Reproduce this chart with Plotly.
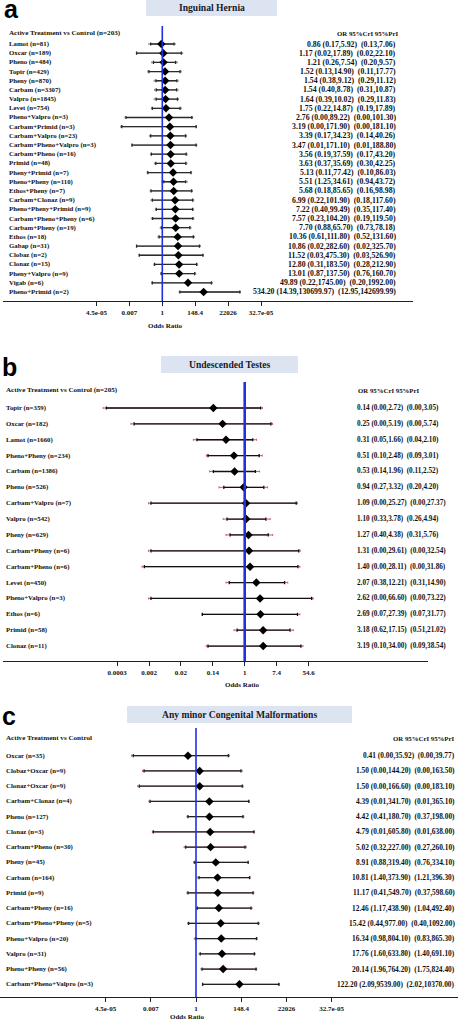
import numpy as np
import plotly.graph_objects as go

# ---------------- Panel a: Inguinal Hernia ----------------
a_labels = ["Lamot (n=81)", "Oxcar (n=189)", "Pheno (n=484)", "Topir (n=429)", "Pheny (n=870)",
            "Carbam (n=3307)", "Valpro (n=1845)", "Levet (n=754)", "Pheno+Valpro (n=3)",
            "Carbam+Primid (n=3)", "Carbam+Valpro (n=23)", "Carbam+Pheno+Valpro (n=3)",
            "Carbam+Pheno (n=16)", "Primid (n=48)", "Pheny+Primid (n=7)", "Pheno+Pheny (n=110)",
            "Ethos+Pheny (n=7)", "Carbam+Clonaz (n=9)", "Pheno+Pheny+Primid (n=9)",
            "Carbam+Pheno+Pheny (n=6)", "Carbam+Pheny (n=19)", "Ethos (n=18)", "Gabap (n=31)",
            "Clobaz (n=2)", "Clonaz (n=15)", "Pheny+Valpro (n=9)", "Vigab (n=6)", "Pheno+Primid (n=2)"]
a_or = [0.86, 1.17, 1.21, 1.52, 1.54, 1.54, 1.64, 1.75, 2.76, 3.19, 3.39, 3.47, 3.56, 3.63, 5.13,
        5.51, 5.68, 6.99, 7.22, 7.57, 7.70, 10.36, 10.86, 11.52, 12.80, 13.01, 49.89, 534.20]
a_cri_lo = [0.17, 0.02, 0.26, 0.13, 0.38, 0.40, 0.39, 0.22, 0.004, 0.0021, 0.17, 0.01, 0.19, 0.37,
            0.11, 1.25, 0.18, 0.22, 0.40, 0.23, 0.88, 0.61, 0.02, 0.03, 0.31, 0.87, 0.22, 14.39]
a_cri_hi = [5.92, 17.89, 7.54, 14.90, 9.12, 8.78, 10.02, 14.87, 89.22, 171.90, 34.23, 171.10, 37.59,
            35.69, 77.42, 34.61, 85.65, 101.90, 99.49, 104.20, 65.70, 111.80, 282.60, 475.30, 183.50,
            137.50, 1745.00, 130699.97]
a_pri_lo = [0.13, 0.02, 0.20, 0.11, 0.29, 0.31, 0.29, 0.19, 0.0035, 0.0018, 0.14, 0.01, 0.17, 0.30,
            0.10, 0.94, 0.16, 0.18, 0.35, 0.19, 0.73, 0.52, 0.02, 0.03, 0.28, 0.76, 0.20, 12.95]
a_pri_hi = [7.06, 22.10, 9.57, 17.77, 11.12, 10.87, 11.83, 17.89, 101.30, 181.10, 40.26, 188.80, 43.20,
            42.25, 86.03, 43.72, 98.98, 117.60, 117.40, 119.50, 78.18, 131.60, 325.70, 526.90, 212.90,
            160.70, 1992.00, 142699.99]
a_tick_ln = [-10, -5, 0, 5, 10, 15]
a_tick_text = ["4.5e-05", "0.007", "1", "148.4", "22026", "32.7e-05"]

# ---------------- Panel b: Undescended Testes ----------------
b_labels = ["Topir (n=359)", "Oxcar (n=182)", "Lamot (n=1660)", "Pheno+Pheny (n=234)", "Carbam (n=1386)",
            "Pheno (n=526)", "Carbam+Valpro (n=7)", "Valpro (n=542)", "Pheny (n=629)",
            "Carbam+Pheny (n=6)", "Carbam+Pheno (n=6)", "Levet (n=450)", "Pheno+Valpro (n=3)",
            "Ethos (n=6)", "Primid (n=58)", "Clonaz (n=11)"]
b_or = [0.14, 0.25, 0.31, 0.51, 0.53, 0.94, 1.09, 1.10, 1.27, 1.31, 1.40, 2.07, 2.62, 2.69, 3.18, 3.19]
b_cri_lo = [0.00017, 0.00097, 0.05, 0.10, 0.14, 0.27, 0.0028, 0.33, 0.40, 0.0028, 0.00185, 0.38,
            0.0028, 0.07, 0.62, 0.10]
b_cri_hi = [2.72, 5.19, 1.66, 2.48, 1.96, 3.32, 25.27, 3.78, 4.38, 29.61, 28.11, 12.21, 66.60, 27.39,
            17.15, 34.00]
b_pri_lo = [0.00014, 0.0008, 0.04, 0.09, 0.11, 0.20, 0.0024, 0.26, 0.31, 0.0024, 0.0016, 0.31,
            0.0024, 0.07, 0.51, 0.09]
b_pri_hi = [3.05, 5.74, 2.10, 3.01, 2.52, 4.20, 27.37, 4.94, 5.76, 32.54, 31.86, 14.90, 73.22, 31.77,
            21.02, 38.54]
b_tick_ln = [-8, -6, -4, -2, 0, 2, 4]
b_tick_text = ["0.0003", "0.002", "0.02", "0.14", "1", "7.4", "54.6"]

# ---------------- Panel c: Any minor Congenital Malformations ----------------
c_labels = ["Oxcar (n=35)", "Clobaz+Oxcar (n=9)", "Clonaz+Oxcar (n=9)", "Carbam+Clonaz (n=4)",
            "Pheno (n=127)", "Clonaz (n=3)", "Carbam+Pheno (n=30)", "Pheny (n=45)", "Carbam (n=164)",
            "Primid (n=9)", "Carbam+Pheny (n=16)", "Carbam+Pheno+Pheny (n=5)", "Pheno+Valpro (n=20)",
            "Valpro (n=31)", "Pheno+Pheny (n=56)", "Carbam+Pheno+Valpro (n=3)"]
c_or = [0.41, 1.50, 1.50, 4.39, 4.42, 4.79, 5.02, 8.91, 10.81, 11.17, 12.46, 15.42, 16.34, 17.76,
        20.14, 122.20]
c_cri_lo = [0.00097, 0.0032, 0.0019, 0.0062, 0.41, 0.0089, 0.32, 0.88, 1.40, 0.41, 1.17, 0.44, 0.98,
            1.60, 1.96, 2.09]
c_cri_hi = [35.92, 144.20, 166.60, 341.70, 180.70, 605.80, 227.00, 319.40, 373.90, 549.70, 438.90,
            977.00, 804.10, 633.80, 764.20, 9539.00]
c_pri_lo = [0.0008, 0.0027, 0.0016, 0.0055, 0.37, 0.0080, 0.27, 0.76, 1.21, 0.37, 1.04, 0.40, 0.83,
            1.40, 1.75, 2.02]
c_pri_hi = [39.77, 163.50, 183.10, 365.10, 198.00, 638.00, 260.10, 334.10, 396.30, 598.60, 492.40,
            1092.00, 865.30, 691.10, 824.40, 10370.00]
c_tick_ln = [-10, -5, 0, 5, 10, 15]
c_tick_text = ["4.5e-05", "0.007", "1", "148.4", "22026", "32.7e-05"]

W, H = 458, 1021
SERIF = "Liberation Serif"
SANS = "Liberation Sans"


def px(x):
    return x / W


def py(y):
    return 1 - y / H


fig = go.Figure()
annotations = []
shapes = []

panels = [
    dict(key="", labels=a_labels, orv=a_or, clo=a_cri_lo, chi=a_cri_hi, plo=a_pri_lo, phi=a_pri_hi,
         tv=a_tick_ln, tt=a_tick_text, zero=162.3, scale=6.58, xl=3, xr=413,
         row0=44, step=9.185, ytop=26, ybot=301, header="Active Treatment vs Control (n=203)",
         hdr_y=33, lab_x=8, txt_x=397, txt_anchor="right", orhdr_x=400, orhdr_anchor="right",
         title="Inguinal Hernia", box=(146, 0, 277, 16), letter="a", letter_xy=(2, -7),
         or_label=(165, 326), blue_w=1.6, whisk="#2a2a2a", pri="#8a8a8a", nfs=7.8),
    dict(key="2", labels=b_labels, orv=b_or, clo=b_cri_lo, chi=b_cri_hi, plo=b_pri_lo, phi=b_pri_hi,
         tv=b_tick_ln, tt=b_tick_text, zero=244.7, scale=15.95, xl=3, xr=428,
         row0=408, step=15.87, ytop=382, ybot=661, header="Active Treatment vs Control (n=205)",
         hdr_y=390, lab_x=5, txt_x=356, txt_anchor="left", orhdr_x=357, orhdr_anchor="left",
         title="Undescended Testes", box=(161, 356, 298, 373), letter="b", letter_xy=(0, 351),
         or_label=(243, 685), blue_w=2.6, whisk="#111111", pri="#d0587a", nfs=7.2),
    dict(key="3", labels=c_labels, orv=c_or, clo=c_cri_lo, chi=c_cri_hi, plo=c_pri_lo, phi=c_pri_hi,
         tv=c_tick_ln, tt=c_tick_text, zero=196.0, scale=9.04, xl=0, xr=458,
         row0=755.7, step=15.24, ytop=728, ybot=997, header="Active Treatment vs Control",
         hdr_y=738, lab_x=5, txt_x=456, txt_anchor="right", orhdr_x=456, orhdr_anchor="right",
         title="Any minor Congenital Malformations", box=(127, 706, 352, 723), letter="c",
         letter_xy=(0, 700), or_label=(187, 1017), blue_w=1.6, whisk="#222222", pri="#a85a70",
         nfs=7.4),
]

layout_axes = {}
for p in panels:
    k = p["key"]
    xa, ya = "x" + k, "y" + k
    n = len(p["labels"])
    rows = list(range(n))
    ln_or = np.log(p["orv"])
    ln_clo, ln_chi = np.log(p["clo"]), np.log(p["chi"])
    ln_plo, ln_phi = np.log(p["plo"]), np.log(p["phi"])

    # prediction interval (tips beyond the credible interval)
    fig.add_trace(go.Scatter(
        x=ln_or, y=rows, mode="markers", xaxis=xa, yaxis=ya,
        marker=dict(size=1, color="rgba(0,0,0,0)"), showlegend=False, hoverinfo="skip",
        error_x=dict(type="data", symmetric=False, array=ln_phi - ln_or, arrayminus=ln_or - ln_plo,
                     color=p["pri"], thickness=1, width=1)))
    # credible interval + point estimate
    fig.add_trace(go.Scatter(
        x=ln_or, y=rows, mode="markers", xaxis=xa, yaxis=ya,
        marker=dict(symbol="diamond", size=6.5, color="black", line=dict(width=0)),
        showlegend=False,
        error_x=dict(type="data", symmetric=False, array=ln_chi - ln_or, arrayminus=ln_or - ln_clo,
                     color=p["whisk"], thickness=1.3, width=1.6)))

    x_lo = (p["xl"] - p["zero"]) / p["scale"]
    x_hi = (p["xr"] - p["zero"]) / p["scale"]
    y_top = (p["ytop"] - p["row0"]) / p["step"]
    y_bot = (p["ybot"] - p["row0"]) / p["step"]
    axis_font = dict(family=SERIF, size=7, color="#111", weight="bold")
    layout_axes["xaxis" + k] = dict(
        domain=[px(p["xl"]), px(p["xr"])], range=[x_lo, x_hi], anchor=ya,
        tickmode="array", tickvals=p["tv"], ticktext=p["tt"], ticks="outside", ticklen=4,
        tickwidth=1.2, tickcolor="#222", showline=True, linecolor="#222", linewidth=1.4,
        showgrid=False, zeroline=False, tickfont=axis_font, fixedrange=True)
    layout_axes["yaxis" + k] = dict(
        domain=[py(p["ybot"]), py(p["ytop"])], range=[y_bot, y_top], anchor=xa,
        visible=False, fixedrange=True)

    # reference line at OR = 1
    shapes.append(dict(type="line", xref=xa, yref=ya + " domain", x0=0, x1=0, y0=0, y1=1,
                       line=dict(color="#1f2fe6", width=p["blue_w"]), layer="above"))

    lab_font = dict(family=SERIF, size=6.8, color="#111", weight="bold")
    num_font = dict(family=SERIF, size=p["nfs"], color="#111", weight="bold")
    for i, lab in enumerate(p["labels"]):
        annotations.append(dict(text=lab, xref="paper", yref=ya, x=px(p["lab_x"]), y=i,
                                xanchor="left", yanchor="middle", showarrow=False, font=lab_font,
                                borderpad=0))
        txt = "%.2f (%.2f,%.2f)\u00a0 (%.2f,%.2f)" % (p["orv"][i], p["clo"][i], p["chi"][i],
                                                   p["plo"][i], p["phi"][i])
        annotations.append(dict(text=txt, xref="paper", yref=ya, x=px(p["txt_x"]), y=i,
                                xanchor=p["txt_anchor"], yanchor="middle", showarrow=False,
                                font=num_font, borderpad=0))
    hdr_y = (p["hdr_y"] - p["row0"]) / p["step"]
    annotations.append(dict(text=p["header"], xref="paper", yref=ya, x=px(p["lab_x"]), y=hdr_y,
                            xanchor="left", yanchor="middle", showarrow=False,
                            font=dict(family=SERIF, size=7.1, color="#111", weight="bold"),
                            borderpad=0))
    annotations.append(dict(text="OR 95%CrI 95%PrI", xref="paper", yref=ya, x=px(p["orhdr_x"]),
                            y=hdr_y, xanchor=p["orhdr_anchor"], yanchor="middle", showarrow=False,
                            font=dict(family=SERIF, size=6.8, color="#111", weight="bold"),
                            borderpad=0))
    # axis caption
    annotations.append(dict(text="Odds Ratio", xref="paper", yref="paper", x=px(p["or_label"][0]),
                            y=py(p["or_label"][1]), xanchor="center", yanchor="middle",
                            showarrow=False, font=dict(family=SERIF, size=7, color="#111",
                                                       weight="bold")))
    # title box
    bx0, by0, bx1, by1 = p["box"]
    shapes.append(dict(type="rect", xref="paper", yref="paper", x0=px(bx0), x1=px(bx1),
                       y0=py(by1), y1=py(by0), fillcolor="#dde4f1", line=dict(width=0),
                       layer="below"))
    annotations.append(dict(text=p["title"], xref="paper", yref="paper", x=px((bx0 + bx1) / 2),
                            y=py((by0 + by1) / 2), xanchor="center", yanchor="middle",
                            showarrow=False, font=dict(family=SERIF, size=9.6, color="#1a1a2a",
                                                       weight="bold")))
    # panel letter
    lx, ly = p["letter_xy"]
    annotations.append(dict(text=p["letter"], xref="paper", yref="paper", x=px(lx), y=py(ly),
                            xanchor="left", yanchor="top", showarrow=False,
                            font=dict(family=SANS, size=25, color="black", weight="bold")))

fig.update_layout(
    width=W, height=H, margin=dict(l=0, r=0, t=0, b=0),
    paper_bgcolor="white", plot_bgcolor="rgba(0,0,0,0)",
    showlegend=False, annotations=annotations, shapes=shapes,
    **layout_axes)

fig.write_html("out.html", config={"displayModeBar": False},
               post_script="document.body.style.margin='0';document.body.style.overflow='hidden';")
